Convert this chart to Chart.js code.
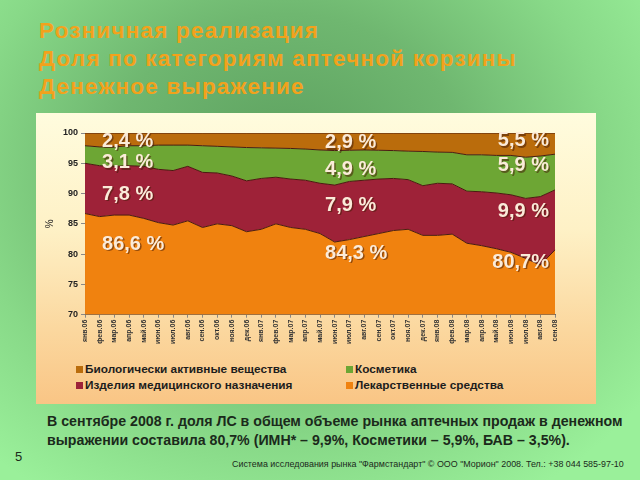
<!DOCTYPE html>
<html><head><meta charset="utf-8">
<script src="https://cdn.jsdelivr.net/npm/chart.js@4"></script>
<style>
html,body{margin:0;padding:0;}
body{width:640px;height:480px;position:relative;overflow:hidden;font-family:'Liberation Sans',Arial,sans-serif;
background: radial-gradient(ellipse 70% 80% at 45% 35%, #5c9f5e 0%, #6fb770 40%, #88d988 72%, #9af09a 100%);}
#title{position:absolute;left:39px;top:17px;color:#F2A21C;font-weight:bold;font-size:22.5px;line-height:28px;letter-spacing:1.2px;white-space:nowrap;}
#panel{position:absolute;left:36px;top:113px;width:560px;height:291px;background:linear-gradient(#FFFCDE,#FEF1C6 40%,#FBD79E 75%,#F9C585);}
#chart{position:absolute;left:0;top:0;}
#legend{position:absolute;left:40px;top:249px;display:grid;grid-template-columns:270px 240px;row-gap:2px;font-weight:bold;font-size:11.8px;color:#1d1d1d;}
#legend span.b{display:inline-block;width:7px;height:7px;margin-right:2px;vertical-align:0px;}
#note{position:absolute;left:47px;top:412px;font-weight:bold;font-size:14.2px;line-height:19px;color:#1b2a1b;white-space:nowrap;}
#page{position:absolute;left:15px;top:449px;font-size:13px;color:#1b2a1b;}
#foot{position:absolute;left:232px;top:458px;font-size:9.5px;color:#1b2a1b;white-space:nowrap;transform-origin:0 0;}
</style></head>
<body>
<div id="title">Розничная реализация<br>Доля по категориям аптечной корзины<br>Денежное выражение</div>
<div id="panel">
<canvas id="chart" width="560" height="245"></canvas>
<div id="legend"></div>
</div>
<div id="note">В сентябре 2008 г. доля ЛС в общем объеме рынка аптечных продаж в денежном<br>выражении составила 80,7% (ИМН* – 9,9%, Косметики – 5,9%, БАВ – 3,5%).</div>
<div id="page">5</div>
<div id="foot">Система исследования рынка "Фармстандарт" © ООО "Морион" 2008. Тел.: +38 044 585-97-10</div>
<script>
const categories = ['янв.06','фев.06','мар.06','апр.06','май.06','июн.06','июл.06','авг.06','сен.06','окт.06','ноя.06','дек.06',
 'янв.07','фев.07','мар.07','апр.07','май.07','июн.07','июл.07','авг.07','сен.07','окт.07','ноя.07','дек.07',
 'янв.08','фев.08','мар.08','апр.08','май.08','июн.08','июл.08','авг.08','сен.08'];
const drugs = [86.7,86.2,86.45,86.45,85.9,85.2,84.8,85.5,84.4,85.0,84.7,83.7,84.1,85.0,84.4,84.1,83.4,82.0,82.4,82.9,83.4,83.9,84.1,83.1,83.1,83.3,81.8,81.4,80.9,80.3,79.3,78.2,80.7];
const medical = [8.3,8.4,8.05,8.15,8.6,8.8,9.0,9.0,9.1,8.4,8.2,8.4,8.4,7.7,8.0,8.1,8.3,9.4,9.6,9.3,9.0,8.6,8.2,8.2,8.6,8.3,8.6,8.9,9.2,9.5,9.9,11.3,9.9];
const cosmetics = [2.9,3.1,3.2,3.3,3.4,4.0,4.2,3.5,4.4,4.4,4.8,5.5,5.05,4.8,5.05,5.15,5.5,5.7,5.15,5.0,4.75,4.6,4.7,5.65,5.15,5.2,6.0,6.1,6.2,6.5,6.8,6.7,5.9];
const supplements = [2.1,2.3,2.3,2.1,2.1,2.0,2.0,2.0,2.1,2.2,2.3,2.4,2.45,2.5,2.55,2.65,2.8,2.9,2.85,2.8,2.85,2.9,3.0,3.05,3.15,3.2,3.6,3.6,3.7,3.7,4.0,3.8,3.5];
const seriesNames = ['Лекарственные средства','Изделия медицинского назначения','Косметика','Биологически активные вещества'];
const yTicks = {min:70, max:100, step:5};
const labelTexts = [['2,4 %','3,1 %','7,8 %','86,6 %'],['2,9 %','4,9 %','7,9 %','84,3 %'],['5,5 %','5,9 %','9,9 %','80,7%']];

const colors = ['#F0820F','#9E2238','#6DA634','#BA6C0C'];
const seriesData = [drugs, medical, cosmetics, supplements];

// fit footer width
const foot = document.getElementById('foot');
foot.style.transform = 'scaleX(' + (392 / foot.offsetWidth) + ')';

const legendOrder = [3,2,1,0];
document.getElementById('legend').innerHTML = legendOrder.map(i =>
  `<div><span class="b" style="background:${colors[i]}"></span>${seriesNames[i]}</div>`).join('');

const labelPlugin = {
  id:'areaLabels',
  afterDatasetsDraw(chart){
    const {ctx, chartArea, scales:{y}} = chart;
    const groups = [
      {x: chartArea.left + 17, align:'left', ys:[98.6,95.1,89.9,81.6]},
      {x: chartArea.left + 240, align:'left', ys:[98.4,93.9,88.1,80.15]},
      {x: chartArea.right - 6, align:'right', ys:[98.7,94.6,87.1,78.65]}
    ];
    ctx.save();
    ctx.font = 'bold 20px "Liberation Sans", Arial, sans-serif';
    ctx.textBaseline = 'middle';
    groups.forEach((g,gi) => {
      ctx.textAlign = g.align;
      g.ys.forEach((v,k) => {
        const py = y.getPixelForValue(v);
        const t = labelTexts[gi][k];
        ctx.fillStyle = 'rgba(70,30,10,0.55)';
        ctx.fillText(t, g.x + 1.5, py + 1.5);
        ctx.fillStyle = '#FBEBD9';
        ctx.fillText(t, g.x, py);
      });
    });
    ctx.restore();
  }
};

new Chart(document.getElementById('chart'), {
  type:'line',
  data:{
    labels:categories,
    datasets: seriesData.map((d,i) => ({
      label: seriesNames[i], data: d,
      backgroundColor: colors[i], borderColor:'#4a1c10', borderWidth:1,
      fill: i === 0 ? 'start' : '-1', pointRadius:0, tension:0
    }))
  },
  options:{
    responsive:false, animation:false,
    layout:{padding:{left:8, right:41, top:20, bottom:12}},
    plugins:{legend:{display:false}, tooltip:{enabled:false}},
    scales:{
      x:{
        grid:{drawOnChartArea:false, drawTicks:true, tickLength:3, color:'#888'},
        border:{color:'#666'},
        ticks:{font:{size:7, weight:'bold', family:'"Liberation Sans", Arial'}, color:'#333', maxRotation:90, minRotation:90, autoSkip:false, padding:2}
      },
      y:{
        stacked:true, min:yTicks.min, max:yTicks.max,
        grid:{drawOnChartArea:false, drawTicks:true, tickLength:4, color:'#888'},
        border:{color:'#666'},
        ticks:{stepSize:yTicks.step, font:{size:9, weight:'bold', family:'"Liberation Sans", Arial'}, color:'#222', padding:3},
        title:{display:true, text:'%', font:{size:10, family:'"Liberation Sans", Arial'}, color:'#222', padding:{top:0,bottom:4}}
      }
    }
  },
  plugins:[labelPlugin]
});
</script>
</body></html>
